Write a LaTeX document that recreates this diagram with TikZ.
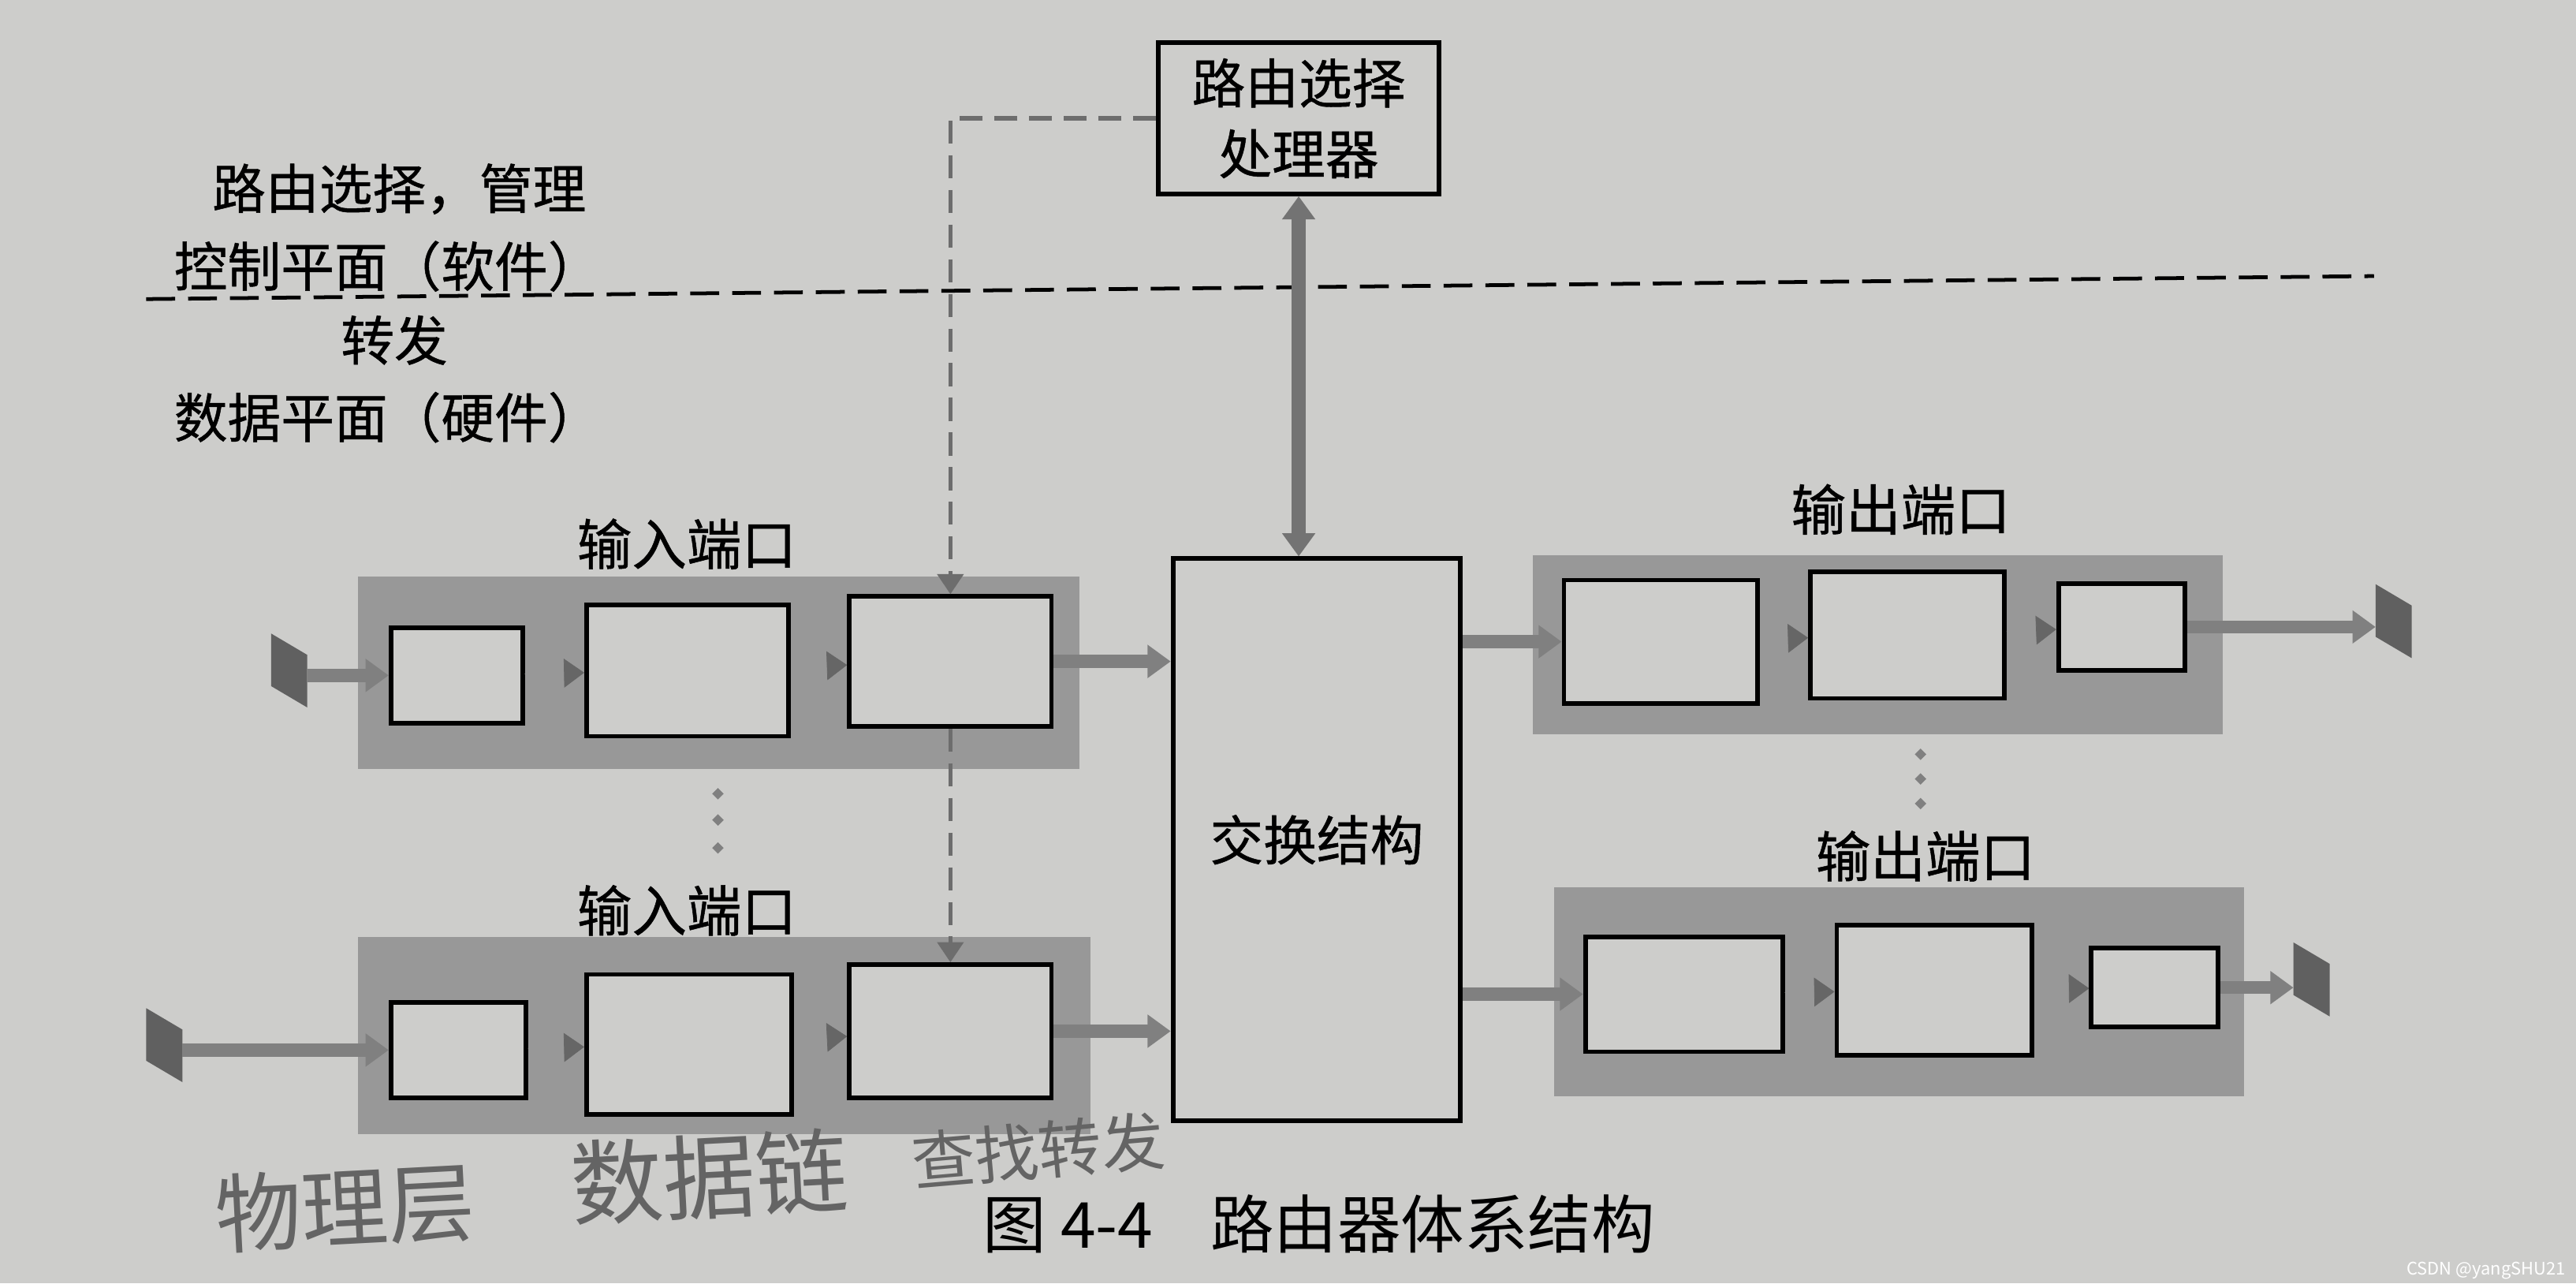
\documentclass[tikz,border=0pt]{standalone}
\usepackage{fontspec}
\setmainfont{Noto Sans CJK SC}
\newfontfamily\heavy{Noto Sans CJK SC}[FakeBold=0.7]
\usetikzlibrary{arrows.meta,fit}
\definecolor{paper}{RGB}{205,205,203}
\definecolor{bandgray}{RGB}{152,152,152}
\definecolor{arrowgray}{RGB}{128,128,128}
\definecolor{pencil}{RGB}{100,100,100}
% slanted line terminal, centred on #1
\newcommand\plug[1]{\fill[arrowgray!75!black] #1 ++(-11,-22.5) -- ++(22,13) -- ++(0,32) -- ++(-22,-13) -- cycle;}

\begin{document}
\begin{tikzpicture}[x=0.02cm,y=-0.02cm,>=stealth]
\tikzset{band/.style={fill=bandgray,inner sep=0pt},
  cell/.style={draw=black,line width=1.6pt,fill=paper,inner sep=0pt},
  lab/.style={font=\heavy\fontsize{18.5}{24.5}\selectfont,align=center,inner sep=0pt},
  portlab/.style={font=\heavy\fontsize{19}{22}\selectfont,inner sep=0pt},
  flow/.style={draw=arrowgray,line width=4.5pt,-{Triangle[length=8pt,width=11pt]}},
  hop/.style={draw=bandgray,line width=.2pt,-{Triangle[length=7pt,width=10pt,color=arrowgray!80!black]}},
  dbl/.style={draw=arrowgray!90!black,line width=5pt,{Triangle[length=8pt,width=11pt]}-{Triangle[length=8pt,width=11pt]}},
  ctrl/.style={draw=arrowgray!85!black,line width=1.4pt,dash pattern=on 8pt off 4pt,-{Triangle[length=7pt,width=9pt]}},
  hand/.style={text=pencil,inner sep=0pt}}
\fill[paper] (0,0) rectangle (1568,781);
\useasboundingbox (0,0) rectangle (1568,781);

% planes
\draw[line width=1.3pt,dash pattern=on 10pt off 4.5pt] (89,182) -- (1445,168);
\node[lab] (t1) at (243,115) {路由选择，管理};
\node[lab] (t2) at (236,162) {控制平面（软件）};
\node[lab] (t3) at (240,207) {转发};
\node[lab] (t4) at (236,254) {数据平面（硬件）};

% ports
\node[band,fit={(218,351) (657,468)}] (in1) {};
\node[band,fit={(218,570) (664,690)}] (in2) {};
\node[band,fit={(933,338) (1353,447)}] (out1) {};
\node[band,fit={(946,540) (1366,667)}] (out2) {};
\foreach \n/\a/\b/\c/\d in {i1a/238/382/318/440,i1b/357/368/480/448,i1c/517/363/640/442,
    i2a/238/610/320/668,i2b/357/593/482/678,i2c/517/587/640/668,
    o1a/952/353/1070/428,o1b/1102/348/1220/425,o1c/1253/355/1330/408,
    o2a/965/570/1085/640,o2b/1118/563/1237/642,o2c/1273/577/1350/625}
  \node[cell,fit={(\a,\b) (\c,\d)}] (\n) {};
\node[portlab] (l1) at (418,331) {输入端口};
\node[portlab] (l2) at (418,554) {输入端口};
\node[portlab] (l3) at (1157,310) {输出端口};
\node[portlab] (l4) at (1172,521) {输出端口};
\foreach \y in {483,499,516} \fill[arrowgray] (437,\y) +(-3.5,0) -- +(0,-3.5) -- +(3.5,0) -- +(0,3.5) -- cycle;
\foreach \y in {459,474,489} \fill[arrowgray] (1169,\y) +(-3.5,0) -- +(0,-3.5) -- +(3.5,0) -- +(0,3.5) -- cycle;

\node[cell,fit={(714,340) (889,682)}] (fab) {};
\node[lab] (fabt) at (fab) {交换结构};
\node[cell,fit={(705,26) (876,118)}] (proc) {};
\node[lab] (proct) at (proc) {路由选择\\处理器};

% terminals
\plug{(176,408)} \coordinate (pin1) at (187,411);
\plug{(100,636)} \coordinate (pin2) at (111,639);
\plug{(1457,378)} \coordinate (pout1) at (1446,381);
\plug{(1407,596)} \coordinate (pout2) at (1396,601);

\draw[flow] (pin1) -- (pin1 -| i1a.west);
\draw[flow] (pin2) -- (pin2 -| i2a.west);
\draw[flow] (i1c.east) -- (i1c.east -| fab.west);
\draw[flow] (i2c.east) -- (i2c.east -| fab.west);
\draw[flow] (o1a.west -| fab.east) -- (o1a.west);
\draw[flow] (o2a.west -| fab.east) -- (o2a.west);
\draw[flow] (o1c.east) -- (o1c.east -| pout1);
\draw[flow] (o2c.east) -- (o2c.east -| pout2);
\foreach \a/\b in {i1a/i1b,i1b/i1c,i2a/i2b,i2b/i2c,o1a/o1b,o1b/o1c,o2a/o2b,o2b/o2c}
  \draw[hop] (\a) -- (\b);
\draw[dbl] (proc.south) -- (proc.south |- fab.north);
\draw[ctrl] (proc.west) -| (i1c.north);
\draw[ctrl] (i1c.south) -- (i1c.south |- i2c.north);

% caption and pencil notes
\node[font=\fontsize{22}{24}\selectfont,anchor=west,inner sep=0pt] (cap) at (598,745) {图 4-4\hspace{0.9em}路由器体系结构};
\node[hand,font=\fontsize{30}{30}\selectfont,rotate=3] (hw1) at (210,735) {物理层};
\node[hand,font=\fontsize{32}{32}\selectfont,rotate=3] (hw2) at (432,716) {数据链};
\node[hand,font=\fontsize{22}{22}\selectfont,rotate=5] (hw3) at (632,700) {查找转发};
\node[text=white,font=\fontsize{6}{6}\selectfont,anchor=east,inner sep=0pt] (wm) at (1562,773) {CSDN @yangSHU21};
\end{tikzpicture}
\end{document}
